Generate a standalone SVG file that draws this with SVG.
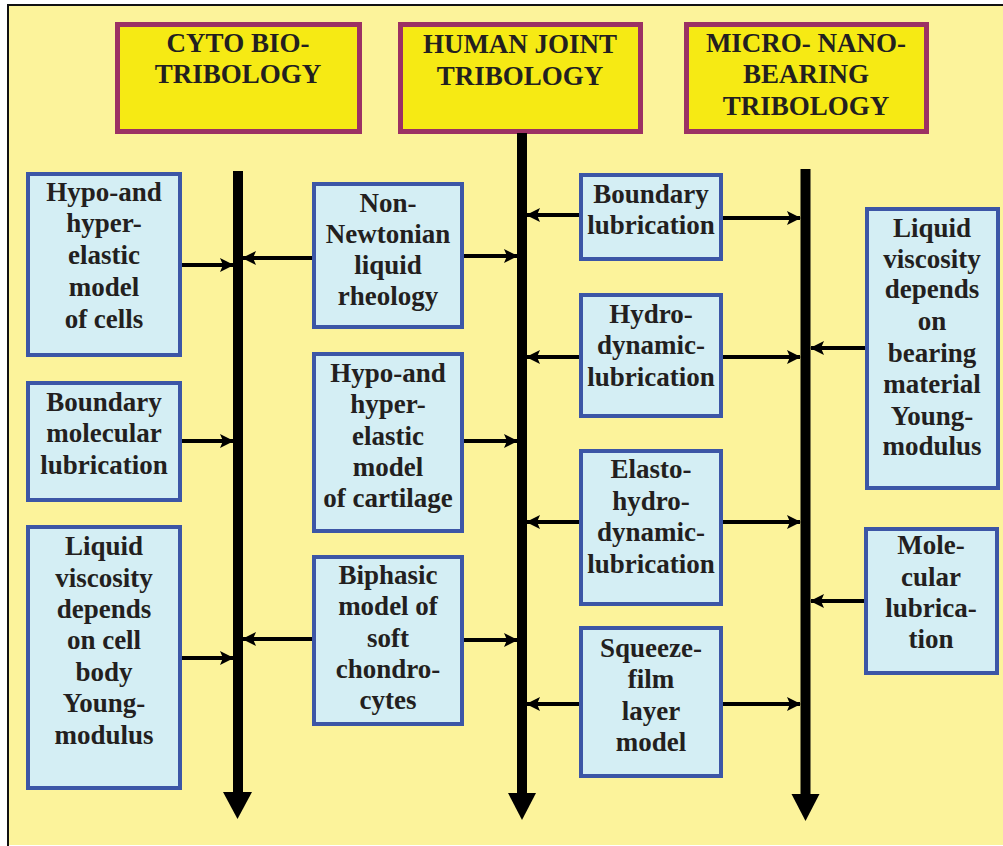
<svg xmlns="http://www.w3.org/2000/svg" width="1003" height="846" viewBox="0 0 1003 846" font-family="'Liberation Serif', 'DejaVu Serif', serif">
<defs>
<style>
.hdr rect{fill:#F6EA14;stroke:#9C3163;stroke-width:5}
.node rect{fill:#D4EEF4;stroke:#3C56A6;stroke-width:4}
text{font-family:'Liberation Serif','DejaVu Serif',serif;font-weight:700;font-size:27px;fill:#231F20;text-anchor:middle}
.conn line{stroke:#000;stroke-width:4}
.trunk line{stroke:#000;stroke-width:10}
</style>
<marker id="ah" markerUnits="userSpaceOnUse" markerWidth="14" markerHeight="14" viewBox="0 0 14 14" refX="13" refY="7" orient="auto">
<path d="M0,0 L14,7 L0,14 L3,7 Z" fill="#000"/>
</marker>
</defs>
<rect x="0" y="0" width="1003" height="846" fill="#FFFFFF"/>
<rect x="8" y="5" width="1000" height="840" fill="#FCF39B"/>
<path d="M8,846 V5 H1003" fill="none" stroke="#111" stroke-width="2"/>

<g id="hdr-cyto" class="hdr"><rect x="117.5" y="24.5" width="242" height="107"/><text x="238" y="52">CYTO BIO-</text><text x="238" y="83">TRIBOLOGY</text></g>
<g id="hdr-joint" class="hdr"><rect x="400.5" y="24.5" width="240" height="107"/><text x="520" y="53">HUMAN JOINT</text><text x="520" y="85">TRIBOLOGY</text></g>
<g id="hdr-micro" class="hdr"><rect x="686.5" y="24.5" width="240" height="107"/><text x="806" y="52">MICRO- NANO-</text><text x="806" y="83">BEARING</text><text x="806" y="115">TRIBOLOGY</text></g>

<g id="connectors">
<g class="trunk">
<line x1="238" y1="171" x2="238" y2="795"/>
<line x1="522" y1="133" x2="522" y2="796"/>
<line x1="805.5" y1="169" x2="805.5" y2="796"/>
</g>
<path d="M223,792 H252 L237.5,819 Z" fill="#000"/>
<path d="M508,793 H536 L522,820 Z" fill="#000"/>
<path d="M791.5,794 H819.5 L805.5,821 Z" fill="#000"/>
<g class="conn">
<line x1="182" y1="265" x2="233" y2="265" marker-end="url(#ah)"/>
<line x1="182" y1="441" x2="233" y2="441" marker-end="url(#ah)"/>
<line x1="182" y1="658" x2="233" y2="658" marker-end="url(#ah)"/>
<line x1="312" y1="258" x2="243" y2="258" marker-end="url(#ah)"/>
<line x1="464" y1="256" x2="517" y2="256" marker-end="url(#ah)"/>
<line x1="464" y1="441" x2="517" y2="441" marker-end="url(#ah)"/>
<line x1="312" y1="639" x2="243" y2="639" marker-end="url(#ah)"/>
<line x1="464" y1="640" x2="517" y2="640" marker-end="url(#ah)"/>
<line x1="579" y1="215" x2="527" y2="215" marker-end="url(#ah)"/>
<line x1="723" y1="218" x2="800" y2="218" marker-end="url(#ah)"/>
<line x1="579" y1="357" x2="527" y2="357" marker-end="url(#ah)"/>
<line x1="723" y1="357" x2="800" y2="357" marker-end="url(#ah)"/>
<line x1="579" y1="522" x2="527" y2="522" marker-end="url(#ah)"/>
<line x1="723" y1="522" x2="800" y2="522" marker-end="url(#ah)"/>
<line x1="579" y1="704" x2="527" y2="704" marker-end="url(#ah)"/>
<line x1="723" y1="704" x2="800" y2="704" marker-end="url(#ah)"/>
<line x1="865" y1="348" x2="811" y2="348" marker-end="url(#ah)"/>
<line x1="865" y1="601" x2="811" y2="601" marker-end="url(#ah)"/>
</g>
</g>

<g id="n-cells" class="node"><rect x="28" y="174" width="152" height="181"/><text x="104" y="201">Hypo-and</text><text x="104" y="232">hyper-</text><text x="104" y="264">elastic</text><text x="104" y="296">model</text><text x="104" y="328">of cells</text></g>
<g id="n-bml" class="node"><rect x="28" y="383" width="152" height="117"/><text x="104" y="411">Boundary</text><text x="104" y="442">molecular</text><text x="104" y="474">lubrication</text></g>
<g id="n-lvcell" class="node"><rect x="28" y="527" width="152" height="261"/><text x="104" y="555">Liquid</text><text x="104" y="587">viscosity</text><text x="104" y="618">depends</text><text x="104" y="649">on cell</text><text x="104" y="681">body</text><text x="104" y="712">Young-</text><text x="104" y="744">modulus</text></g>

<g id="n-nonnewt" class="node"><rect x="314" y="184" width="148" height="143"/><text x="388" y="212">Non-</text><text x="388" y="243">Newtonian</text><text x="388" y="274">liquid</text><text x="388" y="305">rheology</text></g>
<g id="n-cartilage" class="node"><rect x="314" y="354" width="148" height="177"/><text x="388" y="382">Hypo-and</text><text x="388" y="413">hyper-</text><text x="388" y="445">elastic</text><text x="388" y="476">model</text><text x="388" y="507">of cartilage</text></g>
<g id="n-biphasic" class="node"><rect x="314" y="557" width="148" height="167"/><text x="388" y="584">Biphasic</text><text x="388" y="615">model of</text><text x="388" y="647">soft</text><text x="388" y="678">chondro-</text><text x="388" y="709">cytes</text></g>

<g id="n-boundary" class="node"><rect x="581" y="175" width="140" height="84"/><text x="651" y="203">Boundary</text><text x="651" y="234">lubrication</text></g>
<g id="n-hydro" class="node"><rect x="581" y="295" width="140" height="121"/><text x="651" y="323">Hydro-</text><text x="651" y="354">dynamic-</text><text x="651" y="386">lubrication</text></g>
<g id="n-ehl" class="node"><rect x="581" y="451" width="140" height="153"/><text x="651" y="478">Elasto-</text><text x="651" y="510">hydro-</text><text x="651" y="541">dynamic-</text><text x="651" y="573">lubrication</text></g>
<g id="n-squeeze" class="node"><rect x="581" y="628" width="140" height="148"/><text x="651" y="657">Squeeze-</text><text x="651" y="688">film</text><text x="651" y="720">layer</text><text x="651" y="751">model</text></g>

<g id="n-lvbearing" class="node"><rect x="867" y="209" width="131" height="279"/><text x="932" y="237">Liquid</text><text x="932" y="268">viscosity</text><text x="932" y="298">depends</text><text x="932" y="330">on</text><text x="932" y="362">bearing</text><text x="932" y="393">material</text><text x="932" y="425">Young-</text><text x="932" y="455">modulus</text></g>
<g id="n-molecular" class="node"><rect x="866" y="529" width="131" height="144"/><text x="931" y="554">Mole-</text><text x="931" y="586">cular</text><text x="931" y="617">lubrica-</text><text x="931" y="648">tion</text></g>
</svg>
